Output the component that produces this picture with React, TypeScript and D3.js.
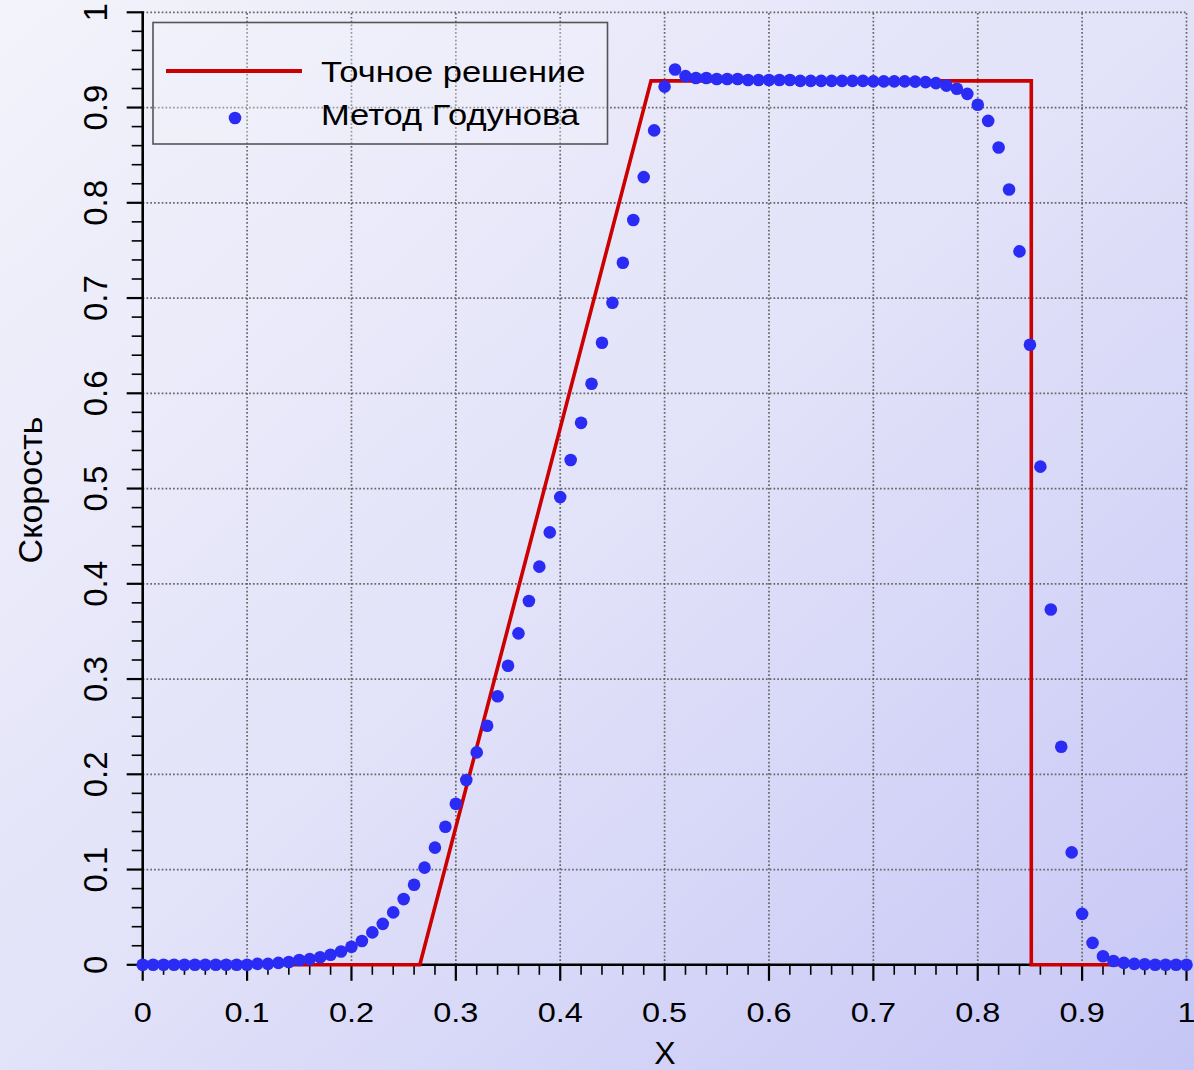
import React from "react";
import * as d3 from "d3";

const W = 1194;
const H = 1070;

// Exact solution (red line)
const exactX = [0, 0.2655, 0.487, 0.8513, 0.8513, 1];
const exactU = [0, 0, 0.928, 0.928, 0, 0];

// Godunov method (blue points)
const godX = [
  0, 0.01, 0.02, 0.03, 0.04, 0.05, 0.06, 0.07, 0.08, 0.09,
  0.1, 0.11, 0.12, 0.13, 0.14, 0.15, 0.16, 0.17, 0.18, 0.19,
  0.2, 0.21, 0.22, 0.23, 0.24, 0.25, 0.26, 0.27, 0.28, 0.29,
  0.3, 0.31, 0.32, 0.33, 0.34, 0.35, 0.36, 0.37, 0.38, 0.39,
  0.4, 0.41, 0.42, 0.43, 0.44, 0.45, 0.46, 0.47, 0.48, 0.49,
  0.5, 0.51, 0.52, 0.53, 0.54, 0.55, 0.56, 0.57, 0.58, 0.59,
  0.6, 0.61, 0.62, 0.63, 0.64, 0.65, 0.66, 0.67, 0.68, 0.69,
  0.7, 0.71, 0.72, 0.73, 0.74, 0.75, 0.76, 0.77, 0.78, 0.79,
  0.8, 0.81, 0.82, 0.83, 0.84, 0.85, 0.86, 0.87, 0.88, 0.89,
  0.9, 0.91, 0.92, 0.93, 0.94, 0.95, 0.96, 0.97, 0.98, 0.99,
  1.0,
];
const godU = [
  0, 0, 0, 0, 0, 0, 0, 0, 0, 0,
  0, 0.001, 0.001, 0.002, 0.003, 0.005, 0.006, 0.008, 0.0105, 0.014,
  0.019, 0.025, 0.034, 0.043, 0.055, 0.069, 0.084, 0.102, 0.123, 0.145,
  0.169, 0.194, 0.223, 0.251, 0.282, 0.314, 0.348, 0.382, 0.418, 0.454,
  0.491, 0.53, 0.569, 0.61, 0.653, 0.695, 0.737, 0.782, 0.827, 0.876,
  0.922, 0.94, 0.933, 0.931, 0.931, 0.93, 0.93, 0.93, 0.929, 0.929,
  0.929, 0.929, 0.929, 0.928, 0.928, 0.928, 0.928, 0.928, 0.928, 0.928,
  0.9275, 0.9275, 0.9275, 0.9275, 0.9272, 0.9267, 0.9256, 0.923, 0.9197, 0.9144,
  0.903, 0.886, 0.858, 0.814, 0.749, 0.651, 0.523, 0.373, 0.229, 0.118,
  0.0535, 0.023, 0.009, 0.004, 0.002, 0.001, 0.0005, 0, 0, 0,
  0,
];

const majorTicks = [0, 0.1, 0.2, 0.3, 0.4, 0.5, 0.6, 0.7, 0.8, 0.9, 1];
const tickLabels = ["0", "0.1", "0.2", "0.3", "0.4", "0.5", "0.6", "0.7", "0.8", "0.9", "1"];
const minorTicks = d3.range(0, 51).map((i) => i / 50);

const legendLabels = ["Точное решение", "Метод Годунова"];
const xTitle = "X";
const yTitle = "Скорость";

const FONT = "'Liberation Sans', Arial, Helvetica, sans-serif";

export default function App() {
  const x = d3.scaleLinear().domain([0, 1]).range([142.7, 1186.5]);
  const y = d3.scaleLinear().domain([0, 1]).range([964.8, 12.3]);

  const line = d3
    .line<number>()
    .x((_, i) => x(exactX[i]))
    .y((d) => y(d));

  const x0 = x(0), x1 = x(1), y0 = y(0), y1 = y(1);

  return (
    <svg
      width={W}
      height={H}
      style={{ position: "absolute", left: 0, top: 0, display: "block" }}
    >
      <defs>
        <linearGradient id="bg" x1="0" y1="0" x2="1" y2="1">
          <stop offset="0%" stopColor="#f3f3fb" />
          <stop offset="50%" stopColor="#e2e2f9" />
          <stop offset="100%" stopColor="#c6c6f6" />
        </linearGradient>
      </defs>
      <rect x={0} y={0} width={W} height={H} fill="url(#bg)" />

      {/* grid */}
      <g stroke="#666" strokeWidth={1.7} strokeDasharray="1.7,2.1" fill="none">
        {majorTicks.map((t) =>
          t > 0 ? <line key={"gx" + t} x1={x(t)} x2={x(t)} y1={y0} y2={y1} /> : null
        )}
        {majorTicks.map((t) =>
          t > 0 ? <line key={"gy" + t} x1={x0} x2={x1} y1={y(t)} y2={y(t)} /> : null
        )}
      </g>

      {/* axes */}
      <g stroke="#000" fill="none">
        <line x1={x0} x2={x0} y1={y1 - 1} y2={y0 + 1} strokeWidth={2.6} />
        <line x1={x0 - 1} x2={x1 + 1} y1={y0} y2={y0} strokeWidth={2.6} />
        {minorTicks.map((t, i) =>
          i % 5 === 0 ? null : (
            <g key={"mt" + i} strokeWidth={1.6}>
              <line x1={x(t)} x2={x(t)} y1={y0} y2={y0 + 10} />
              <line x1={x0} x2={x0 - 11} y1={y(t)} y2={y(t)} />
            </g>
          )
        )}
        {majorTicks.map((t) => (
          <g key={"Mt" + t} strokeWidth={2.2}>
            <line x1={x(t)} x2={x(t)} y1={y0} y2={y0 + 16} />
            <line x1={x0} x2={x0 - 16} y1={y(t)} y2={y(t)} />
          </g>
        ))}
      </g>

      {/* tick labels */}
      <g fontFamily={FONT} fill="#000">
        {majorTicks.map((t, i) => (
          <text
            key={"xl" + t}
            textAnchor="middle"
            fontSize={28}
            transform={`translate(${x(t)},${1022}) scale(1.16,1)`}
          >
            {tickLabels[i]}
          </text>
        ))}
        {majorTicks.map((t, i) => (
          <text
            key={"yl" + t}
            textAnchor="middle"
            fontSize={33}
            transform={`translate(${107},${y(t)}) rotate(-90)`}
          >
            {tickLabels[i]}
          </text>
        ))}
        <text textAnchor="middle" fontSize={32} transform={`translate(${665},${1064})`}>
          {xTitle}
        </text>
        <text textAnchor="middle" fontSize={34} transform={`translate(${42},${490}) rotate(-90)`}>
          {yTitle}
        </text>
      </g>

      {/* exact solution */}
      <path
        d={line(exactU) || ""}
        fill="none"
        stroke="#cc0000"
        strokeWidth={3.6}
        strokeLinejoin="miter"
      />

      {/* Godunov points */}
      <g fill="#2b2bf6">
        {godU.map((u, i) => (
          <circle key={"p" + i} cx={x(godX[i])} cy={y(u)} r={6.3} />
        ))}
      </g>

      {/* legend */}
      <g>
        <rect
          x={153}
          y={22.5}
          width={454.5}
          height={121.5}
          fill="#f4f4fc"
          fillOpacity={0.35}
          stroke="#555"
          strokeWidth={1.6}
        />
        <line x1={166} x2={302} y1={71} y2={71} stroke="#cc0000" strokeWidth={4} />
        <circle cx={235} cy={118} r={6.3} fill="#2b2bf6" />
        <text
          fontFamily={FONT}
          fontSize={30}
          fill="#000"
          transform={`translate(${321},${82}) scale(1.15,1)`}
        >
          {legendLabels[0]}
        </text>
        <text
          fontFamily={FONT}
          fontSize={30}
          fill="#000"
          transform={`translate(${321},${125}) scale(1.15,1)`}
        >
          {legendLabels[1]}
        </text>
      </g>
    </svg>
  );
}
